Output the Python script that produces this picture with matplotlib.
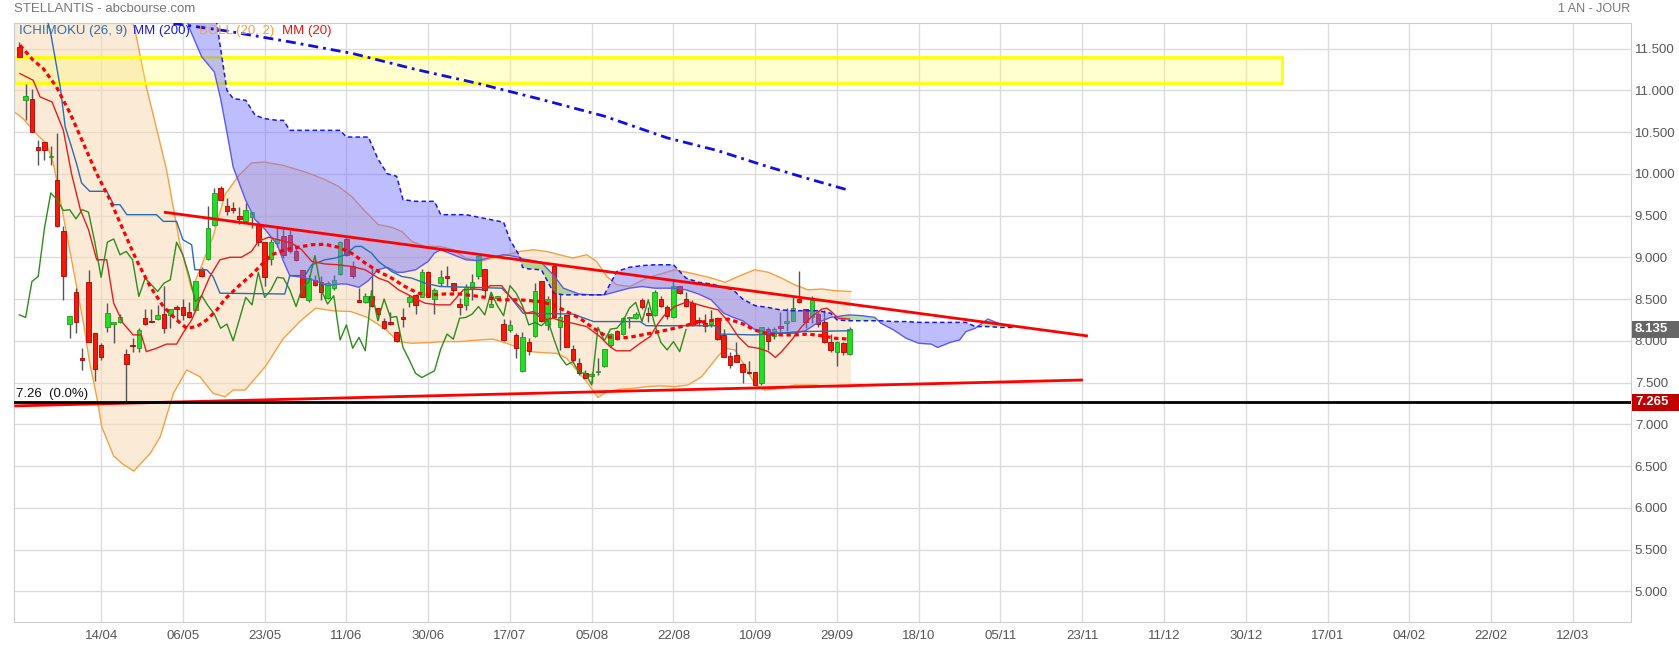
import numpy as np
import matplotlib.pyplot as plt
from matplotlib.patches import Rectangle
from matplotlib.transforms import blended_transform_factory

# Axe des dates (un libellé toutes les 13 séances)
dates = ['14/04', '06/05', '23/05', '11/06', '30/06', '17/07', '05/08', '22/08', '10/09', '29/09',
         '18/10', '05/11', '23/11', '11/12', '30/12', '17/01', '04/02', '22/02', '12/03']
first_bar = -13  # première séance visible, 13 séances avant le 14/04

# Cours (séances -13 à 119)
opens = [11.52, 10.88, 10.90, 10.32, 10.38, 10.20, 9.93, 9.31, 8.20, 8.59, 7.79, 8.70, 8.09,
         7.95, 8.16, 8.20, 8.22, 7.84, 7.95, 7.91, 8.27, 8.24, 8.26, 8.32, 8.31, 8.41, 8.40,
         8.35, 8.37, 8.86, 8.98, 9.39, 9.83, 9.61, 9.59, 9.50, 9.44, 9.48, 9.39, 9.18, 8.98,
         9.17, 9.25, 9.27, 9.08, 8.85, 8.49, 8.73, 8.70, 8.51, 8.63, 8.80, 9.22, 8.89, 8.49,
         8.46, 8.54, 8.39, 8.24, 8.23, 8.11, 8.28, 8.46, 8.55, 8.53, 8.82, 8.50, 8.69, 8.78,
         8.69, 8.44, 8.43, 8.62, 8.78, 8.86, 8.40, 8.51, 8.20, 8.13, 8.07, 7.64, 7.98, 8.06,
         8.71, 8.19, 8.89, 8.16, 8.31, 7.90, 7.73, 7.61, 7.58, 7.62, 7.70, 7.95, 8.12, 8.08,
         8.27, 8.27, 8.49, 8.33, 8.31, 8.50, 8.40, 8.28, 8.65, 8.50, 8.45, 8.25, 8.21, 8.20,
         8.27, 8.07, 7.82, 7.83, 7.72, 7.62, 7.62, 7.49, 8.14, 8.06, 8.18, 8.21, 8.24, 8.50,
         8.38, 8.28, 8.32, 8.23, 7.98, 7.87, 7.97, 7.84]
highs = [11.58, 11.08, 11.02, 10.41, 10.38, 10.33, 10.49, 9.37, 8.30, 8.63, 7.91, 8.85, 8.09,
         7.97, 8.45, 8.23, 8.32, 7.90, 8.03, 8.15, 8.38, 8.38, 8.43, 8.66, 8.38, 8.43, 8.50,
         8.47, 8.71, 8.88, 9.61, 9.83, 9.85, 9.71, 9.66, 9.60, 9.65, 9.54, 9.43, 9.18, 9.22,
         9.36, 9.35, 9.33, 9.13, 8.85, 8.79, 8.79, 8.77, 8.71, 8.79, 9.19, 9.24, 8.95, 8.63,
         8.57, 8.87, 8.39, 8.27, 8.35, 8.11, 8.39, 8.55, 8.56, 8.86, 8.84, 8.63, 8.85, 8.89,
         8.69, 8.51, 8.68, 8.80, 9.03, 8.86, 8.58, 8.54, 8.26, 8.25, 8.09, 8.10, 8.03, 8.69,
         8.72, 8.54, 8.91, 8.56, 8.31, 7.95, 7.79, 7.65, 7.62, 7.79, 7.90, 8.09, 8.13, 8.29,
         8.29, 8.34, 8.51, 8.41, 8.61, 8.54, 8.43, 8.71, 8.66, 8.59, 8.49, 8.29, 8.32, 8.37,
         8.29, 8.14, 7.86, 7.98, 7.73, 7.76, 7.63, 8.17, 8.16, 8.16, 8.34, 8.39, 8.52, 8.83,
         8.38, 8.54, 8.35, 8.37, 8.08, 8.00, 7.98, 8.16]
lows = [11.40, 10.64, 10.50, 10.11, 10.17, 10.11, 9.36, 8.49, 8.03, 8.09, 7.65, 7.98, 7.52,
        7.77, 8.10, 7.97, 8.21, 7.28, 7.86, 7.86, 8.19, 8.22, 8.25, 8.09, 8.15, 8.25, 8.25,
        8.27, 8.34, 8.76, 8.97, 9.38, 9.69, 9.51, 9.53, 9.40, 9.43, 9.35, 9.13, 8.65, 8.91,
        9.12, 8.99, 9.05, 8.95, 8.53, 8.47, 8.65, 8.49, 8.50, 8.61, 8.79, 9.01, 8.75, 8.46,
        8.45, 8.41, 8.25, 8.14, 8.19, 7.98, 8.17, 8.41, 8.32, 8.52, 8.52, 8.32, 8.65, 8.65,
        8.59, 8.31, 8.37, 8.49, 8.74, 8.54, 8.40, 8.49, 8.00, 8.11, 7.79, 7.63, 7.83, 8.05,
        8.22, 8.13, 8.27, 7.89, 7.92, 7.73, 7.59, 7.55, 7.49, 7.59, 7.69, 7.93, 8.01, 8.07,
        8.15, 8.26, 8.38, 8.23, 8.30, 8.41, 8.26, 8.27, 8.56, 8.41, 8.18, 8.18, 8.10, 8.17,
        8.01, 7.80, 7.67, 7.74, 7.49, 7.60, 7.47, 7.47, 7.89, 8.02, 8.11, 8.12, 8.24, 8.45,
        8.15, 8.21, 8.17, 7.97, 7.87, 7.70, 7.83, 7.83]
closes = [11.40, 10.93, 10.50, 10.29, 10.28, 10.21, 9.37, 8.78, 8.30, 8.22, 7.77, 7.98, 7.66,
          7.81, 8.33, 8.23, 8.29, 7.72, 7.94, 8.13, 8.20, 8.23, 8.31, 8.15, 8.38, 8.38, 8.31,
          8.28, 8.71, 8.77, 9.35, 9.77, 9.69, 9.56, 9.57, 9.46, 9.57, 9.54, 9.18, 8.76, 9.18,
          9.22, 9.03, 9.07, 8.97, 8.53, 8.75, 8.67, 8.59, 8.69, 8.73, 9.18, 9.03, 8.78, 8.47,
          8.54, 8.42, 8.32, 8.15, 8.20, 8.00, 8.26, 8.52, 8.43, 8.82, 8.52, 8.61, 8.76, 8.75,
          8.61, 8.41, 8.64, 8.70, 9.02, 8.61, 8.44, 8.54, 8.01, 8.19, 7.91, 8.04, 7.88, 8.60,
          8.24, 8.50, 8.28, 8.29, 7.92, 7.77, 7.61, 7.56, 7.60, 7.64, 7.90, 8.08, 8.02, 8.27,
          8.28, 8.32, 8.41, 8.31, 8.58, 8.42, 8.30, 8.66, 8.57, 8.42, 8.19, 8.22, 8.18, 8.25,
          8.02, 7.81, 7.71, 7.75, 7.62, 7.61, 7.47, 8.16, 8.00, 8.14, 8.15, 8.24, 8.39, 8.46,
          8.23, 8.49, 8.20, 7.98, 7.89, 7.99, 7.87, 8.135]

# Bandes de Bollinger (20, 2) et MM20
bb_up_x = [-13.8, -8.7, -6, -4.4, -2.8, -0.7, 0.1, 2, 3.5, 5.4, 7.2, 10.4, 12.5, 14.4, 15.7, 17.8,
           19.7, 21.8, 23.9, 26, 29, 32.9, 35.6, 37.7, 39.8, 42, 44.1, 46.2, 47.8, 49.4, 51.5,
           53.9, 56, 58, 60.2, 62.3, 64.5, 66.6, 68.7, 70.8, 72.9, 75, 77.2, 78.8, 80.4, 82,
           84.1, 86.7, 88.5, 91.2, 94.4, 97.1, 99.2, 101.3, 103.9, 106.1, 108.2, 110.3, 112.4,
           114.6, 116.7, 119.2]
bb_up = [12.45, 12.04, 12.27, 12.41, 12.51, 12.67, 12.73, 12.5, 12.16, 11.72, 11.04, 10.05, 9.17,
         8.61, 8.85, 9.25, 9.75, 9.97, 10.13, 10.14, 10.10, 10.01, 9.93, 9.85, 9.73, 9.55, 9.39,
         9.36, 9.31, 9.19, 9.13, 9.13, 9.09, 8.99, 8.95, 8.99, 9.03, 9.07, 9.09, 9.07, 9.03,
         8.99, 9.03, 8.95, 8.77, 8.67, 8.65, 8.75, 8.79, 8.85, 8.80, 8.75, 8.70, 8.77, 8.85,
         8.82, 8.75, 8.67, 8.61, 8.62, 8.60, 8.59]
bb_lo_x = [-13.8, -12.4, -10.3, -8.7, -7.6, -6, -4.4, -2.8, -1.8, -0.7, 0.1, 2, 3.5, 5.2, 7.8,
           9.4, 11.5, 13.6, 15.7, 17.8, 19.7, 21, 22.9, 24.5, 26.2, 28.9, 31.6, 34.1, 36.8,
           39.7, 42.3, 45, 47.3, 49.4, 52.5, 54.6, 57, 60.2, 62.3, 64.5, 66.6, 68.2, 69.8,
           72.4, 74, 75.6, 77.2, 79, 80.4, 82.5, 84.6, 86.7, 88.8, 91.2, 93.3, 95.5, 97.6,
           99.2, 100.8, 102.4, 104, 105.6, 108.2, 110.3, 113.5, 116.1, 119.2]
bb_lo = [10.74, 10.66, 10.48, 10.36, 10.13, 9.49, 8.85, 8.21, 7.73, 7.33, 6.97, 6.62, 6.52, 6.44,
         6.65, 6.85, 7.37, 7.65, 7.57, 7.37, 7.33, 7.41, 7.41, 7.55, 7.70, 8.02, 8.23, 8.39,
         8.36, 8.35, 8.28, 8.15, 7.99, 7.97, 7.98, 7.99, 7.99, 8.01, 8.02, 7.97, 7.91, 7.87,
         7.86, 7.85, 7.79, 7.65, 7.51, 7.32, 7.39, 7.42, 7.43, 7.45, 7.46, 7.45, 7.47, 7.57,
         7.77, 7.91, 7.89, 7.69, 7.47, 7.41, 7.43, 7.47, 7.47, 7.45, 7.45]
mm20_x = [-12.9, -10.8, -9.2, -7.1, -4.9, -2.8, -0.7, 1.4, 3.5, 5.6, 7.8, 9.9, 12, 13.6, 15.2,
          16.8, 18.4, 19.7, 21.8, 23.9, 25.5, 27.1, 29.2, 31.3, 33.5, 35.6, 37.7, 39.8, 42,
          44.1, 46.2, 48.3, 50.4, 52.6, 54.6, 57, 60.2, 63.4, 66.6, 69.8, 71.9, 74, 76.1,
          78.3, 80.4, 82.5, 84.6, 86.7, 88.8, 91.2, 94.4, 97.6, 99.7, 101.8, 103.9, 106.1,
          108.2, 110.3, 112.4, 114.6, 116.7, 119]
mm20 = [11.54, 11.36, 11.26, 11.04, 10.72, 10.36, 10.00, 9.69, 9.33, 8.97, 8.65, 8.41, 8.25, 8.15,
        8.17, 8.25, 8.37, 8.50, 8.65, 8.79, 8.91, 9.03, 9.09, 9.12, 9.15, 9.155, 9.12, 9.05,
        8.93, 8.83, 8.75, 8.65, 8.57, 8.55, 8.56, 8.56, 8.53, 8.49, 8.49, 8.47, 8.43, 8.35,
        8.27, 8.15, 8.05, 8.03, 8.05, 8.08, 8.11, 8.15, 8.21, 8.25, 8.26, 8.21, 8.13, 8.08,
        8.07, 8.07, 8.08, 8.06, 8.03, 8.02]

# MM200
mm200_x = [11.5, 20, 30, 40, 50, 60, 70, 80, 90, 97.9, 105.8, 112, 119]
mm200 = [11.80, 11.71, 11.58, 11.44, 11.25, 11.08, 10.89, 10.69, 10.43, 10.28, 10.09, 9.95, 9.80]

# Ichimoku : Tenkan, Kijun, nuage (Senkou A / B)
tenkan_x = [-12.9, -10.8, -9.7, -7.8, -6, -4.7, -3.3, -2, -0.7, 0.9, 2, 3.5, 5.1, 6.4, 7.2, 8.8,
            10.4, 12, 13, 14.4, 15.7, 17.3, 18.9, 20.5, 22.3, 23.9, 25, 26.6, 28.2, 30.3, 31.9,
            33.5, 35.6, 37.7, 39.8, 42, 44.1, 45.6, 47.3, 49.4, 51.5, 53.6, 55.5, 57.6, 59.2,
            60.8, 61.9, 63.7, 65, 66.6, 67.6, 68.7, 70.3, 71.9, 73.4, 75, 77.2, 79.3, 80.9,
            81.9, 84.1, 85.7, 87.3, 88.5, 89.6, 91.2, 93.3, 95.5, 96.5, 98.1, 99.7, 101.3,
            102.9, 104.5, 106.1, 107.2, 108.2, 109.8, 111.4, 113, 114.6, 115.4, 116.1, 117.2, 119]
tenkan = [11.20, 11.12, 10.92, 10.86, 10.52, 10.00, 9.57, 9.33, 8.97, 8.97, 8.45, 8.21, 8.07, 8.07,
          7.87, 7.91, 7.96, 7.96, 8.09, 8.25, 8.49, 8.77, 8.97, 9.00, 9.00, 9.07, 9.19, 9.24,
          9.21, 9.17, 9.09, 8.95, 8.92, 8.91, 8.89, 8.85, 8.75, 8.71, 8.61, 8.53, 8.45, 8.43,
          8.43, 8.61, 8.62, 8.61, 8.66, 8.66, 8.53, 8.41, 8.33, 8.35, 8.25, 8.27, 8.23, 8.21,
          8.17, 8.05, 7.93, 7.88, 7.88, 7.97, 8.05, 8.20, 8.31, 8.41, 8.47, 8.42, 8.40, 8.37,
          8.23, 8.05, 7.93, 7.91, 7.87, 7.80, 7.87, 8.01, 8.17, 8.29, 8.38, 8.39, 8.35, 8.27, 8.26]
kijun_x = [-10, -8.1, -6.5, -5.7, -4.7, -3.9, -3.1, -1.8, 0.9, 2, 3, 4.1, 8.8, 9.9, 12, 13, 14.4,
           14.9, 16.8, 17.8, 18.9, 29.2, 30, 32.4, 33.5, 35.6, 37.2, 38.8, 40.4, 41.4, 43, 44.1,
           46.2, 47.8, 49.4, 51.5, 53.9, 63.7, 65, 67.1, 75, 78.3, 85.7, 86.7, 97.6, 98.4,
           103.9, 111.4, 119]
kijun = [12.2, 11.72, 11.04, 10.56, 10.32, 10.12, 9.89, 9.79, 9.79, 9.63, 9.63, 9.51, 9.51, 9.43,
         9.43, 9.21, 9.15, 8.85, 8.85, 8.77, 8.57, 8.56, 8.78, 8.78, 8.91, 8.97, 8.99, 9.03,
         9.13, 9.13, 9.05, 8.95, 8.83, 8.77, 8.75, 8.69, 8.65, 8.63, 8.53, 8.33, 8.32, 8.23,
         8.23, 8.18, 8.18, 8.08, 8.07, 8.11, 8.12]
cloud_x = [12, 14, 16, 18, 19, 20, 21, 23, 24.5, 26, 28, 29, 30, 32, 34, 36, 38, 39, 41, 42.5, 44,
           45.5, 47, 48, 50, 52, 53, 54, 56, 58, 60, 62, 64, 65, 66.5, 67, 68, 70, 72, 73.5, 76,
           78, 80, 82, 84, 86, 88, 91, 93, 95, 97, 99, 100.5, 102, 104, 106, 108, 110, 112, 114,
           116, 117, 119, 121, 123, 124, 126, 128, 130, 132, 133, 135, 136.5, 137.5, 139, 141,
           143, 145]
senkou_a = [12.3, 11.75, 11.40, 11.22, 10.90, 10.50, 10.08, 9.68, 9.45, 9.34, 9.15, 8.95, 8.78,
            8.76, 8.72, 8.66, 8.68, 8.68, 8.64, 8.72, 8.85, 8.88, 8.82, 8.82, 8.85, 8.95, 9.05,
            9.09, 9.03, 8.97, 8.96, 9.00, 9.03, 9.02, 9.00, 8.98, 8.97, 8.94, 8.78, 8.63, 8.56,
            8.55, 8.55, 8.59, 8.63, 8.65, 8.63, 8.63, 8.61, 8.56, 8.49, 8.33, 8.28, 8.24, 8.13,
            8.10, 8.09, 8.09, 8.12, 8.22, 8.28, 8.29, 8.31, 8.30, 8.28, 8.21, 8.13, 8.03, 7.97,
            7.96, 7.92, 7.98, 8.01, 8.11, 8.15, 8.26, 8.20, 8.17]
senkou_b = [12.6, 12.4, 12.2, 12.0, 11.5, 11.0, 10.90, 10.88, 10.70, 10.66, 10.64, 10.64, 10.52,
            10.52, 10.52, 10.52, 10.52, 10.44, 10.44, 10.44, 10.18, 10.00, 9.97, 9.69, 9.67, 9.67,
            9.67, 9.51, 9.51, 9.51, 9.48, 9.45, 9.42, 9.21, 9.02, 8.88, 8.86, 8.85, 8.57, 8.55,
            8.55, 8.55, 8.55, 8.83, 8.88, 8.90, 8.91, 8.91, 8.75, 8.70, 8.68, 8.64, 8.61, 8.50,
            8.42, 8.40, 8.37, 8.36, 8.36, 8.36, 8.33, 8.25, 8.24, 8.24, 8.24, 8.24, 8.23, 8.23,
            8.22, 8.22, 8.22, 8.22, 8.22, 8.22, 8.17, 8.17, 8.16, 8.16]

# Lignes tracées à la main
resist_x = [10.0, 156.9]
resist_y = [9.54, 8.057]
support_x = [-13.8, 156.1]
support_y = [7.22, 7.53]
zone_x = [-13.8, 187.7]
zone_y = [11.09, 11.40]
level = 7.265
last_price = 8.135

x = np.arange(len(opens)) + first_bar
o = np.array(opens)
c = np.array(closes)
h = np.array(highs)
l = np.array(lows)
up = c >= o

fig = plt.figure(figsize=(16.79, 6.47), dpi=100)
ax = fig.add_axes([14.3 / 1679, 1 - 622 / 647, (1630.7 - 14.3) / 1679, (622 - 23.3) / 647])
ax.set_xlim(-13.8, 243.2)
ax.set_ylim(4.632, 11.802)

# Grille
ticks = np.arange(len(dates)) * 13
ax.set_xticks(ticks)
ax.set_xticklabels(dates, family=['Liberation Sans Narrow', 'Liberation Sans'], fontsize=9.5,
                   color='#555555')
ax.set_yticks(np.arange(5.0, 11.51, 0.5))
ax.set_yticklabels(['%.3f' % v for v in np.arange(5.0, 11.51, 0.5)], family='Liberation Sans',
                   fontsize=9.5, color='#555555')
ax.yaxis.tick_right()
ax.tick_params(length=0)
ax.tick_params(axis='x', pad=6)
ax.tick_params(axis='y', pad=3)
ax.grid(color='#dcdcdc', linewidth=1)
ax.set_axisbelow(True)
for s in ax.spines.values():
    s.set_color('#cccccc')

# Bollinger
ax.fill(np.r_[bb_up_x, bb_lo_x[::-1]], np.r_[bb_up, bb_lo[::-1]], color='#f9d9b5', alpha=0.55,
        lw=0, zorder=1)
ax.plot(bb_up_x, bb_up, color='#f5a142', lw=1, zorder=2)
ax.plot(bb_lo_x, bb_lo, color='#f5a142', lw=1, zorder=2)

# Zone jaune
ax.add_patch(Rectangle((zone_x[0], zone_y[0]), zone_x[1] - zone_x[0], zone_y[1] - zone_y[0],
                       facecolor=(1, 1, 0.35, 0.28), edgecolor='#ffff00', lw=2, zorder=2))

# Chandeliers
ax.vlines(x, l, h, color='#555555', lw=1, zorder=3)
body = np.maximum(np.abs(c - o), 0.012)
ax.bar(x[up], body[up], bottom=np.minimum(o, c)[up], width=0.72, color='#22dd22',
       edgecolor='#1e9a1e', lw=0.6, zorder=3)
ax.bar(x[~up], body[~up], bottom=np.minimum(o, c)[~up], width=0.72, color='#f21a0a',
       edgecolor='#b00000', lw=0.6, zorder=3)

# Nuage Ichimoku
sa = np.array(senkou_a)
sb = np.array(senkou_b)
ax.fill_between(cloud_x, sa, sb, where=sa <= sb, interpolate=True, color='#6f6fff', alpha=0.45,
                lw=0, zorder=4)
ax.fill_between(cloud_x, sa, sb, where=sa >= sb, interpolate=True, color='#5cbf3a', alpha=0.45,
                lw=0, zorder=4)
ax.plot(cloud_x, senkou_a, color='#5a5af0', lw=1, zorder=4)
ax.plot(cloud_x, senkou_b, color='#1a1ae6', lw=1.1, ls=(0, (3, 2)), zorder=4)

# Lignes Ichimoku + moyennes
ax.plot(x[:-26], closes[26:], color='#2e8b1e', lw=1, zorder=5)
ax.plot(kijun_x, kijun, color='#2b6cb0', lw=1, zorder=5)
ax.plot(tenkan_x, tenkan, color='#e02020', lw=1, zorder=5)
ax.plot(mm20_x, mm20, color='#ff0000', lw=2.3, ls=(0, (1.4, 1.1)), zorder=5)
ax.plot(mm200_x, mm200, color='#1010e0', lw=2, ls=(0, (3.6, 1.8, 1, 1.8)), zorder=5)

# Droites de tendance et niveau
ax.plot(resist_x, resist_y, color='#ff0000', lw=2, zorder=6, solid_capstyle='butt')
ax.plot(support_x, support_y, color='#ff0000', lw=2, zorder=6, solid_capstyle='butt')
ax.axhline(level, color='black', lw=2, zorder=6)
ax.text(-13.6, level + 0.02, '7.26  (0.0%)', fontsize=9.5, family='Liberation Sans',
        color='#111111', va='bottom', ha='left', zorder=7)

# Étiquettes de prix à droite
tr = blended_transform_factory(fig.transFigure, ax.transData)
for val, col in [(last_price, '#666666'), (level, '#c00000')]:
    ax.add_patch(Rectangle((1631.7 / 1679, val - 0.102), 48 / 1679, 0.204, transform=tr,
                           facecolor=col, edgecolor='none', clip_on=False, zorder=10))
    ax.text(1635 / 1679, val, '%.3f' % val, transform=tr, color='white', fontsize=9.5,
            fontweight='bold', family='Liberation Sans', va='center', ha='left',
            clip_on=False, zorder=11)

# Titres et légende
fig.text(14 / 1679, 1 - 9 / 647, 'STELLANTIS - abcbourse.com', fontsize=9.5, color='#777777',
         family='Liberation Sans', va='center', ha='left')
fig.text(1630 / 1679, 1 - 9 / 647, '1 AN - JOUR', fontsize=9, color='#777777',
         family='Liberation Sans', va='center', ha='right')
for xpos, txt, col in [(19, 'ICHIMOKU (26, 9)', '#2a6fb0'), (133, 'MM (200)', '#1a1adb'),
                       (199, 'BOLL (20, 2)', '#f5a142'), (282, 'MM (20)', '#ee1111')]:
    fig.text(xpos / 1679, 1 - 31 / 647, txt, fontsize=9.5, color=col, family='Liberation Sans',
             va='center', ha='left', zorder=12)

plt.savefig('out.png', dpi=100)
